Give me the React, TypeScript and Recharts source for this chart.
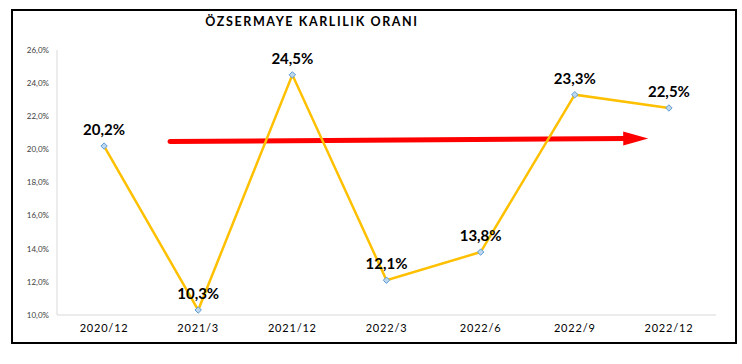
import React from 'react';
import { LineChart, Line, XAxis, YAxis, LabelList, ReferenceLine } from 'recharts';

const categories = ['2020/12', '2021/3', '2021/12', '2022/3', '2022/6', '2022/9', '2022/12'];
const values = [20.2, 10.3, 24.5, 12.1, 13.8, 23.3, 22.5];
const yTicks = [10, 12, 14, 16, 18, 20, 22, 24, 26];
const trendStart = { x: 0.7, y: 20.48 };
const trendEnd = { x: 5.78, y: 20.66 };

const data = categories.map((c, i) => ({ idx: i, cat: c, value: values[i] }));

const fmt = (v: number) => v.toFixed(1).replace('.', ',') + '%';

const Diamond = (props: any) => {
  const { cx, cy } = props;
  if (cx == null || cy == null) return null;
  const r = 3.2;
  return (
    <polygon
      points={`${cx},${cy - r} ${cx + r},${cy} ${cx},${cy + r} ${cx - r},${cy}`}
      fill="#BDD7EE"
      stroke="#5B9BD5"
      strokeWidth={1}
    />
  );
};

const ArrowShape = (props: any) => {
  const { x1, y1, x2, y2 } = props;
  if (x1 == null) return null;
  const headLen = 25;
  const half = 7;
  const dx = x2 - x1;
  const dy = y2 - y1;
  const len = Math.sqrt(dx * dx + dy * dy);
  const ux = dx / len;
  const uy = dy / len;
  const bx = x2 - ux * headLen;
  const by = y2 - uy * headLen;
  const px = -uy;
  const py = ux;
  return (
    <g>
      <line x1={x1} y1={y1} x2={bx + ux * 2} y2={by + uy * 2} stroke="#FF0000" strokeWidth={5} strokeLinecap="round" />
      <polygon
        points={`${x2},${y2} ${bx + px * half},${by + py * half} ${bx - px * half},${by - py * half}`}
        fill="#FF0000"
      />
    </g>
  );
};

const TopLabel = (props: any) => {
  const { x, y, value } = props;
  return (
    <text x={x} y={y - 11} textAnchor="middle" fontFamily="Lato, 'Open Sans', sans-serif" fontWeight="bold" fontSize={15} fill="#000">
      {fmt(value)}
    </text>
  );
};

export default function App() {
  return (
    <div style={{ position: 'absolute', left: 0, top: 0, width: 742, height: 364, background: '#fff' }}>
      <div
        style={{
          position: 'absolute',
          left: 11,
          top: 9,
          width: 722,
          height: 331,
          border: '2px solid #000',
        }}
      />
      <div
        style={{
          position: 'absolute',
          left: 112,
          top: 14,
          width: 400,
          textAlign: 'center',
          fontFamily: "Lato, 'Open Sans', sans-serif",
          fontWeight: 'bold',
          fontSize: 12.5,
          letterSpacing: 1.6,
          color: '#000',
        }}
      >
        ÖZSERMAYE KARLILIK ORANI
      </div>
      <div style={{ position: 'absolute', left: 0, top: 0 }}>
        <LineChart width={742} height={364} data={data} margin={{ top: 50, right: 26, left: 17, bottom: 19 }}>
          <XAxis
            dataKey="idx"
            type="number"
            domain={[-0.5, 6.5]}
            ticks={[0, 1, 2, 3, 4, 5, 6]}
            tickFormatter={(v: number) => categories[v]}
            height={30}
            tickSize={0}
            tickMargin={9}
            axisLine={{ stroke: '#D9D9D9' }}
            tick={{ fontFamily: "Lato, 'Open Sans', sans-serif", fontSize: 11, fill: '#000', letterSpacing: 0.8 }}
            interval={0}
          />
          <YAxis
            domain={[10, 26]}
            ticks={yTicks}
            width={40}
            tickSize={0}
            tickMargin={8}
            axisLine={{ stroke: '#D9D9D9' }}
            tickFormatter={(v: number) => v.toFixed(1).replace('.', ',') + '%'}
            tick={{ fontFamily: "Lato, 'Open Sans', sans-serif", fontSize: 8, fill: '#404040' }}
          />
          <ReferenceLine
            segment={[trendStart, trendEnd]}
            shape={ArrowShape}
            ifOverflow="visible"
          />
          <Line
            dataKey="value"
            stroke="#FFC000"
            strokeWidth={2.5}
            dot={<Diamond />}
            activeDot={false}
            isAnimationActive={false}
          >
            <LabelList dataKey="value" content={<TopLabel />} />
          </Line>
        </LineChart>
      </div>
    </div>
  );
}
